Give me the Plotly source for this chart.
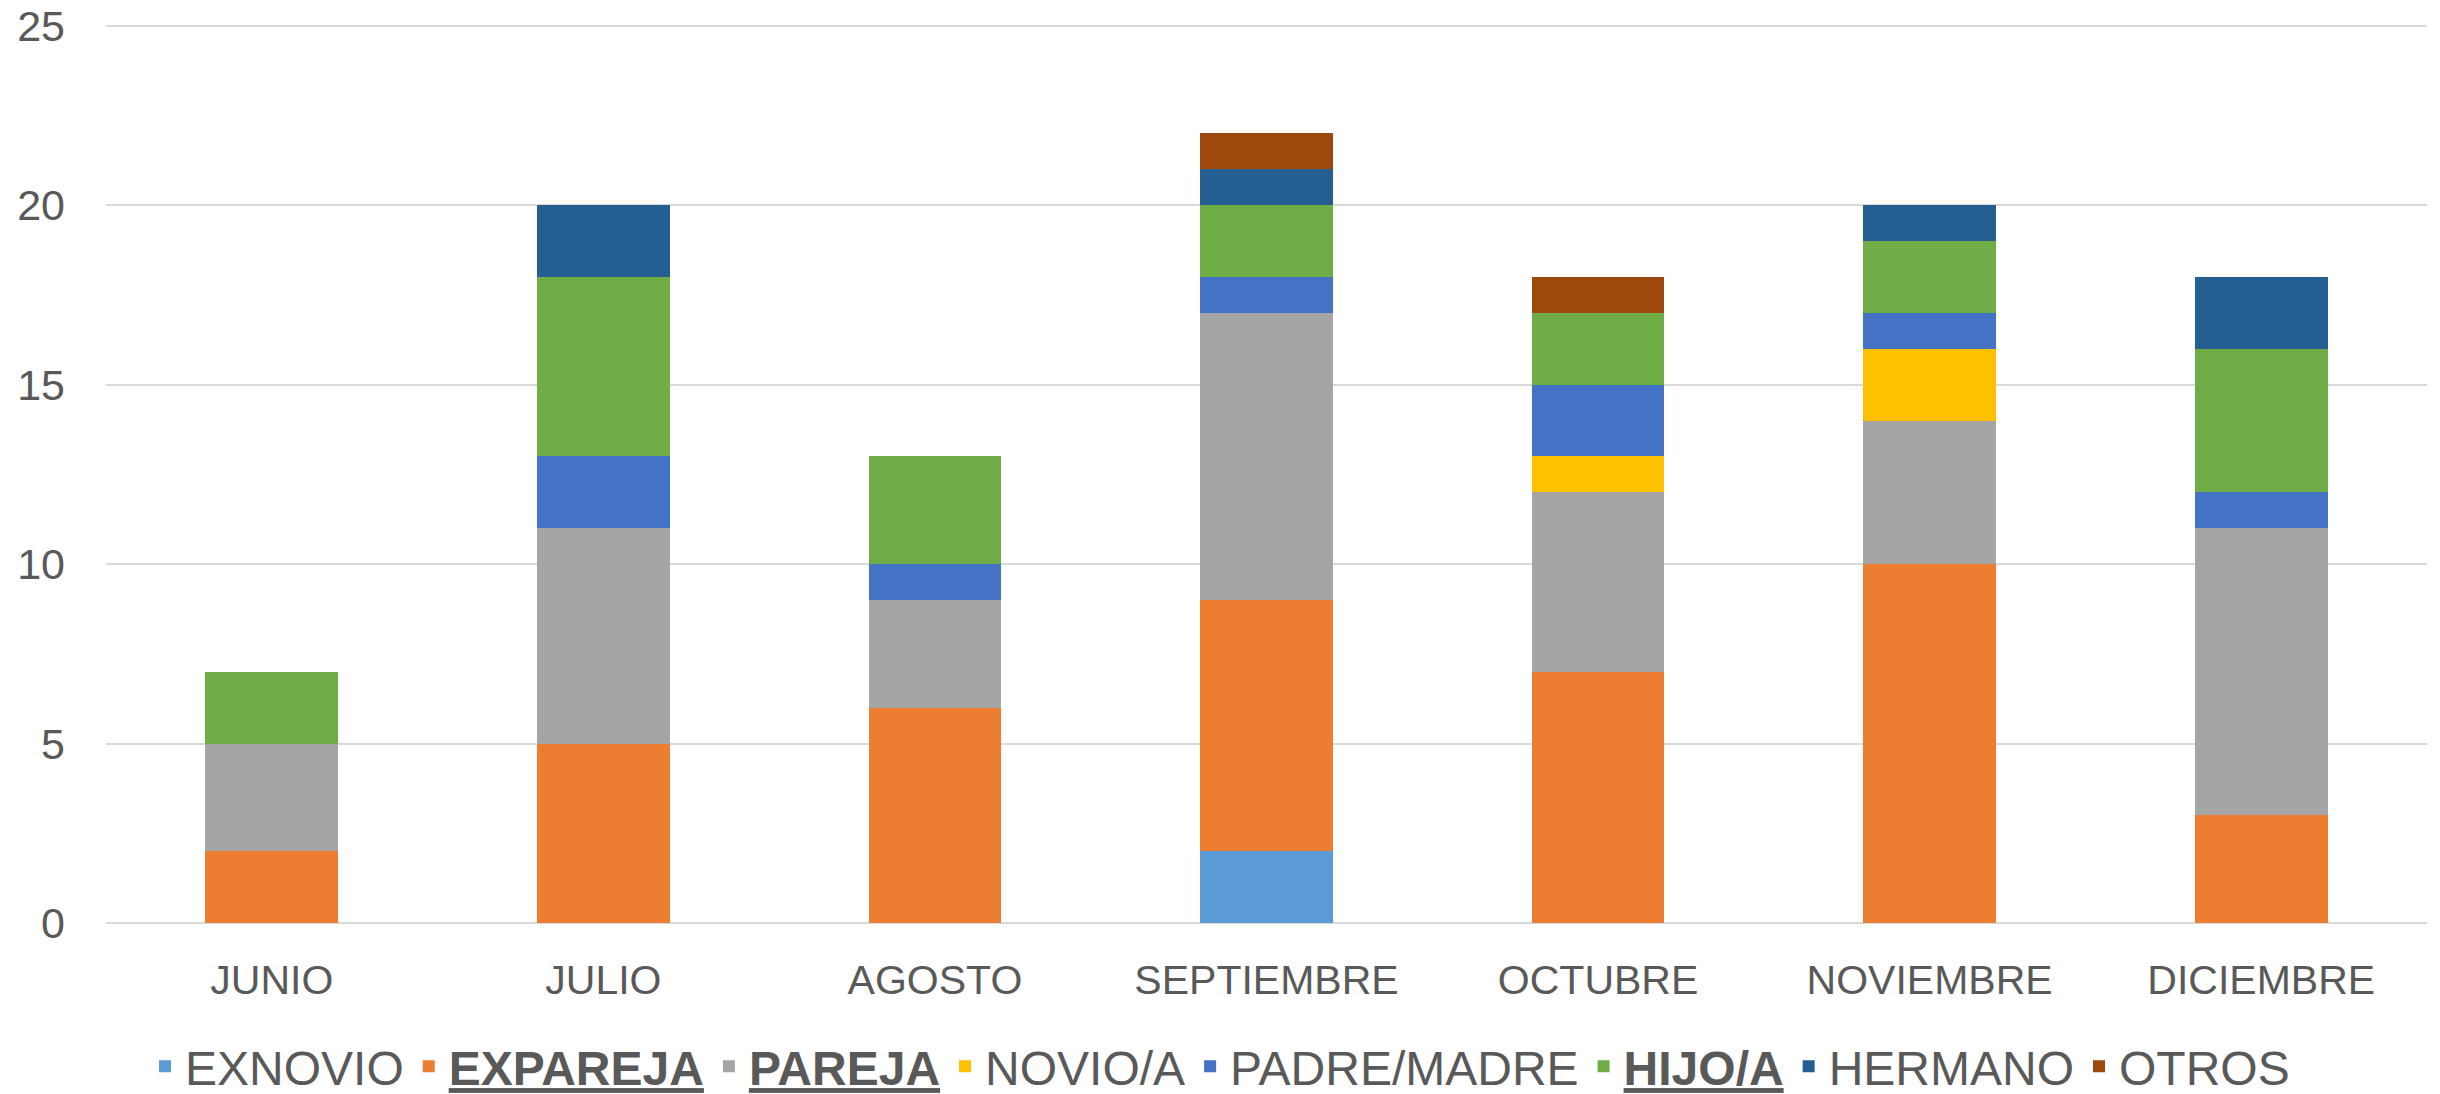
import plotly.graph_objects as go

months = ["JUNIO", "JULIO", "AGOSTO", "SEPTIEMBRE", "OCTUBRE", "NOVIEMBRE", "DICIEMBRE"]

exnovio = [0, 0, 0, 2, 0, 0, 0]
expareja = [2, 5, 6, 7, 7, 10, 3]
pareja = [3, 6, 3, 8, 5, 4, 8]
novio = [0, 0, 0, 0, 1, 2, 0]
padre_madre = [0, 2, 1, 1, 2, 1, 1]
hijo = [2, 5, 3, 2, 2, 2, 4]
hermano = [0, 2, 0, 1, 0, 1, 2]
otros = [0, 0, 0, 1, 1, 0, 0]

series = [
    ("EXNOVIO", exnovio, "#5B9BD5"),
    ("<b><u>EXPAREJA</u></b>", expareja, "#ED7D31"),
    ("<b><u>PAREJA</u></b>", pareja, "#A5A5A5"),
    ("NOVIO/A", novio, "#FFC000"),
    ("PADRE/MADRE", padre_madre, "#4472C4"),
    ("<b><u>HIJO/A</u></b>", hijo, "#70AD47"),
    ("HERMANO", hermano, "#255E91"),
    ("OTROS", otros, "#9E480E"),
]

TEXT = "#595959"
FONT = "Liberation Sans, Arial"

fig = go.Figure()
for name, vals, color in series:
    fig.add_trace(
        go.Bar(
            x=months,
            y=vals,
            name=name,
            marker=dict(color=color, line=dict(width=0)),
        )
    )

fig.update_layout(
    barmode="stack",
    bargap=0.6,
    width=2440,
    height=1094,
    paper_bgcolor="white",
    plot_bgcolor="white",
    font=dict(family=FONT, color=TEXT, size=43),
    margin=dict(l=106, r=13, t=24, b=171),
    xaxis=dict(
        showgrid=False,
        ticks="",
        tickfont=dict(size=41, color=TEXT),
        showline=False,
        automargin=False,
        ticklabelstandoff=29,
    ),
    yaxis=dict(
        range=[0, 25.05],
        tickvals=[0, 5, 10, 15, 20, 25],
        gridcolor="#D9D9D9",
        gridwidth=2,
        zeroline=True,
        zerolinecolor="#D9D9D9",
        zerolinewidth=2,
        tickfont=dict(size=43, color=TEXT),
        ticklabelstandoff=40,
        ticklabeloverflow="allow",
        automargin=False,
    ),
    legend=dict(
        orientation="h",
        x=0.5,
        xanchor="center",
        xref="container",
        y=0.025,
        yanchor="middle",
        yref="container",
        traceorder="normal",
        font=dict(size=48, color=TEXT, family=FONT),
    ),
)

# drop the default 8px body margin so the figure fills the window exactly
fig.write_html(
    "out.html",
    config={"displayModeBar": False},
    post_script="document.body.style.margin = '0';",
)
